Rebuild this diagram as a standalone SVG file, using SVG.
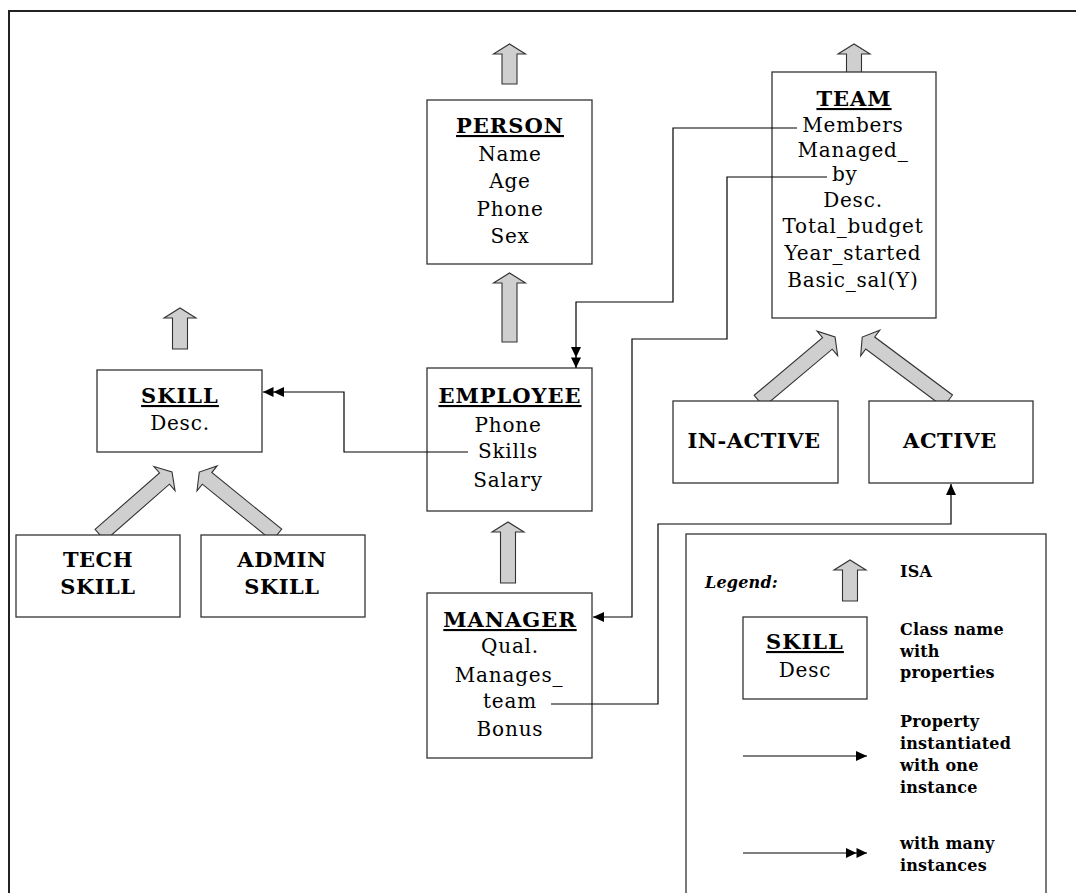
<svg xmlns="http://www.w3.org/2000/svg" width="1076" height="893" viewBox="0 0 1076 893">
<style>
.box{fill:#fff;stroke:#333;stroke-width:1.3}
.isa{fill:#cfcfcf;stroke:#333;stroke-width:1.1;stroke-linejoin:miter}
.t{font-family:"DejaVu Serif","Liberation Serif",serif;font-size:20px;fill:#000;text-anchor:middle;letter-spacing:0.8px}
.h{font-family:"DejaVu Serif","Liberation Serif",serif;font-size:21px;font-weight:bold;fill:#000;text-anchor:middle;text-decoration:underline;letter-spacing:1px}
.b{font-family:"DejaVu Serif","Liberation Serif",serif;font-size:21px;font-weight:bold;fill:#000;text-anchor:middle;letter-spacing:0.5px}
.lg{font-family:"DejaVu Serif","Liberation Serif",serif;font-size:16px;font-weight:bold;fill:#000;letter-spacing:0.2px}
.conn{fill:none;stroke:#000;stroke-width:1.2}
</style>
<defs>
<marker id="one" markerUnits="userSpaceOnUse" markerWidth="12" markerHeight="12" refX="11" refY="5" orient="auto">
<path d="M0,0 L11,5 L0,10 Z" fill="#000"/>
</marker>
<marker id="many" markerUnits="userSpaceOnUse" markerWidth="22" markerHeight="12" refX="21" refY="5" orient="auto">
<path d="M0,0 L10.5,5 L0,10 Z M10.5,0 L21,5 L10.5,10 Z" fill="#000"/>
</marker>
</defs>
<rect width="1076" height="893" fill="#fff"/>
<path d="M9,893 V11 H1076" fill="none" stroke="#222" stroke-width="2"/>

<g id="isa-arrows">
<path class="isa" transform="translate(509.5,84)" d="M-7.5,0 V-30 H-16 L0,-40 L16,-30 H7.5 V0 Z"/>
<path class="isa" transform="translate(854,84)" d="M-7.5,0 V-30 H-16 L0,-40 L16,-30 H7.5 V0 Z"/>
<path class="isa" transform="translate(509.5,342)" d="M-7.5,0 V-59 H-16 L0,-69 L16,-59 H7.5 V0 Z"/>
<path class="isa" transform="translate(508,583)" d="M-7.5,0 V-51 H-16 L0,-61 L16,-51 H7.5 V0 Z"/>
<path class="isa" transform="translate(180,349)" d="M-7.5,0 V-31 H-16 L0,-41 L16,-31 H7.5 V0 Z"/>
<path class="isa" transform="translate(100,535) rotate(48.8)" d="M-7.5,0 V-85.7 H-16 L0,-95.7 L16,-85.7 H7.5 V0 Z"/>
<path class="isa" transform="translate(277,535) rotate(-51)" d="M-7.5,0 V-90 H-16 L0,-100 L16,-90 H7.5 V0 Z"/>
<path class="isa" transform="translate(759,401) rotate(49.9)" d="M-7.5,0 V-89.4 H-16 L0,-99.4 L16,-89.4 H7.5 V0 Z"/>
<path class="isa" transform="translate(948,401) rotate(-53.3)" d="M-7.5,0 V-97 H-16 L0,-107 L16,-97 H7.5 V0 Z"/>
</g>

<g id="person">
<rect class="box" x="427" y="100" width="165" height="164"/>
<text class="h" x="510" y="133">PERSON</text>
<text class="t" x="510" y="161">Name</text>
<text class="t" x="510" y="188">Age</text>
<text class="t" x="510" y="216">Phone</text>
<text class="t" x="510" y="243">Sex</text>
</g>

<g id="team">
<rect class="box" x="772" y="72" width="164" height="246"/>
<text class="h" x="854" y="106">TEAM</text>
<text class="t" x="853" y="132">Members</text>
<text class="t" x="853" y="157">Managed_</text>
<text class="t" x="832" y="181" style="text-anchor:start">by</text>
<text class="t" x="853" y="207">Desc.</text>
<text class="t" x="853" y="233">Total_budget</text>
<text class="t" x="853" y="260">Year_started</text>
<text class="t" x="853" y="287">Basic_sal(Y)</text>
</g>

<g id="employee">
<rect class="box" x="427" y="368" width="165" height="143"/>
<text class="h" x="510" y="403">EMPLOYEE</text>
<text class="t" x="508" y="432">Phone</text>
<text class="t" x="508" y="458">Skills</text>
<text class="t" x="508" y="487">Salary</text>
</g>

<g id="manager">
<rect class="box" x="427" y="593" width="165" height="165"/>
<text class="h" x="510" y="627">MANAGER</text>
<text class="t" x="510" y="653">Qual.</text>
<text class="t" x="509" y="682">Manages_</text>
<text class="t" x="510" y="708">team</text>
<text class="t" x="510" y="736">Bonus</text>
</g>

<g id="skill">
<rect class="box" x="97" y="370" width="165" height="82"/>
<text class="h" x="180" y="403">SKILL</text>
<text class="t" x="180" y="430">Desc.</text>
</g>

<g id="tech-skill">
<rect class="box" x="16" y="535" width="164" height="82"/>
<text class="b" x="98" y="567">TECH</text>
<text class="b" x="98" y="594">SKILL</text>
</g>

<g id="admin-skill">
<rect class="box" x="201" y="535" width="164" height="82"/>
<text class="b" x="282" y="567">ADMIN</text>
<text class="b" x="282" y="594">SKILL</text>
</g>

<g id="in-active">
<rect class="box" x="673" y="401" width="165" height="82"/>
<text class="b" x="754" y="448">IN-ACTIVE</text>
</g>

<g id="active">
<rect class="box" x="869" y="401" width="164" height="82"/>
<text class="b" x="950" y="448">ACTIVE</text>
</g>

<g id="legend">
<rect class="box" x="686" y="534" width="360" height="370"/>
<text class="lg" x="705" y="588" style="font-style:italic">Legend:</text>
<path class="isa" transform="translate(850,601)" d="M-7.5,0 V-31 H-16 L0,-41 L16,-31 H7.5 V0 Z"/>
<text class="lg" x="900" y="577">ISA</text>
<rect class="box" x="743" y="617" width="124" height="82"/>
<text class="h" x="805" y="649">SKILL</text>
<text class="t" x="805" y="677">Desc</text>
<text class="lg" x="900" y="635">Class name</text>
<text class="lg" x="900" y="657">with</text>
<text class="lg" x="900" y="678">properties</text>
<path class="conn" d="M743,756 H867" marker-end="url(#one)"/>
<text class="lg" x="900" y="727">Property</text>
<text class="lg" x="900" y="749">instantiated</text>
<text class="lg" x="900" y="771">with one</text>
<text class="lg" x="900" y="793">instance</text>
<path class="conn" d="M743,853 H867" marker-end="url(#many)"/>
<text class="lg" x="900" y="849">with many</text>
<text class="lg" x="900" y="871">instances</text>
</g>

<g id="connectors">
<path class="conn" d="M468,452 H344 V392 H263" marker-end="url(#many)"/>
<path class="conn" d="M797,128 H673 V302 H576 V368" marker-end="url(#many)"/>
<path class="conn" d="M827,177 H727 V339 H632 V617 H593" marker-end="url(#one)"/>
<path class="conn" d="M551,704 H658 V524 H951 V484" marker-end="url(#one)"/>
</g>
</svg>
